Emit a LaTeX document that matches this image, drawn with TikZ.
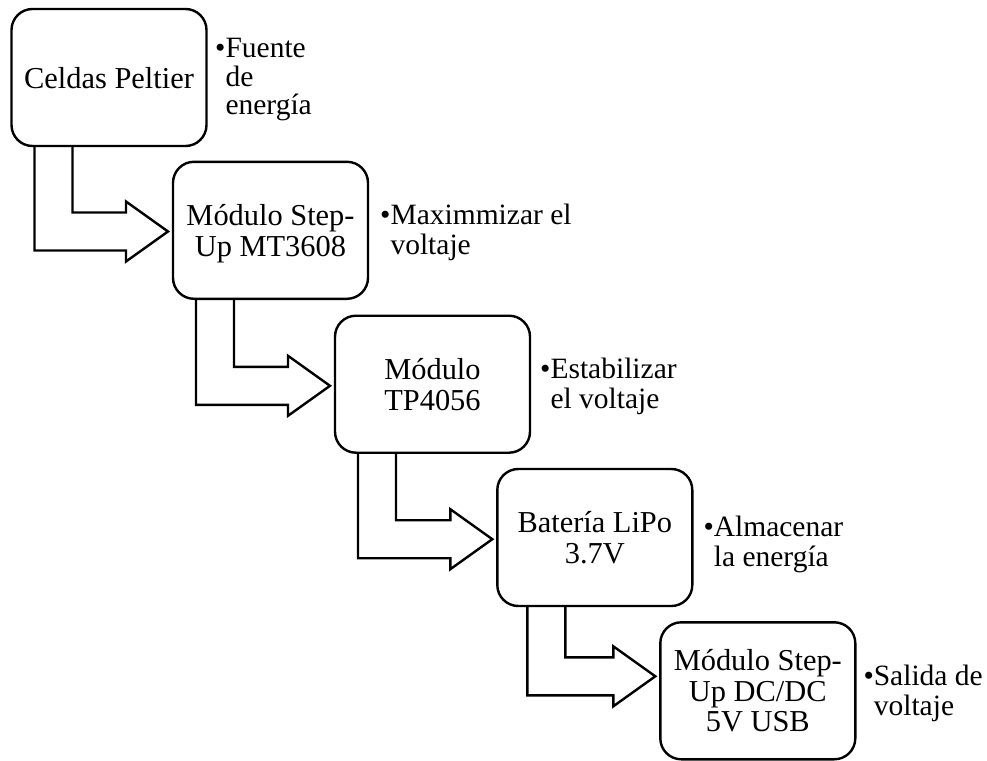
\documentclass[tikz,border=0pt]{standalone}
\usepackage{fontspec}
\setmainfont{Liberation Serif}
\usetikzlibrary{calc}

% bent block arrow: leaves the bottom of #1, turns right and points at #2
% #3 = offset of the outer edge from the left side of #1, #4 = vertical shift of the arrow axis
\newcommand{\flowarrow}[4]{%
  \draw[flow] let \p1=(#1.south west), \p2=($(#2.west)+(0,#4)$) in
    (\x1+#3pt,\y1) -- (\x1+#3pt,\y2-19pt) -- (\x2-47pt,\y2-19pt) -- (\x2-47pt,\y2-30pt)
    -- (\x2-5pt,\y2) -- (\x2-47pt,\y2+30pt) -- (\x2-47pt,\y2+19pt)
    -- (\x1+#3pt+38pt,\y2+19pt) -- (\x1+#3pt+38pt,\y1);}

\begin{document}
\begin{tikzpicture}[x=1pt,y=-1pt,
  stage/.style={draw, line width=2.4pt, rounded corners=21pt, minimum width=195pt,
    minimum height=137pt, align=center, inner sep=0pt, outer sep=0pt, text depth=0pt,
    font=\fontsize{30.4}{30.5}\selectfont},
  note/.style={anchor=base west, inner sep=0pt, outer sep=0pt,
    font=\fontsize{29.5}{30}\selectfont},
  flow/.style={draw, line width=2.4pt, line join=miter}]
\useasboundingbox (0,0) rectangle (987,760);

% process stages
\node[stage] (b1) at (109,77.5)   {Celdas Peltier};
\node[stage] (b2) at (270.5,230.3) {Módulo Step-\\Up MT3608};
\node[stage] (b3) at (432.5,384.2) {Módulo\\TP4056};
\node[stage] (b4) at (594.8,537.5) {Batería LiPo\\3.7V};
\node[stage] (b5) at (757.8,690.8) {Módulo Step-\\Up DC/DC\\5V USB};

% arrows between stages
\flowarrow{b1}{b2}{23}{1.2}
\flowarrow{b2}{b3}{23}{1.6}
\flowarrow{b3}{b4}{23}{1.7}
\flowarrow{b4}{b5}{30}{-14.5}

% bullet notes beside each stage
\node[note] (n1) at (215.2,57.7)
  {\begin{tabular}[t]{@{}l@{}l@{}}•&Fuente\\[-1.5pt]&de\\[-1.5pt]&energía\end{tabular}};
\node[note] (n2) at (380.2,224.3)
  {\begin{tabular}[t]{@{}l@{}l@{}}•&Maximmizar el\\&voltaje\end{tabular}};
\node[note] (n3) at (540.2,378.3)
  {\begin{tabular}[t]{@{}l@{}l@{}}•&Estabilizar\\&el voltaje\end{tabular}};
\node[note] (n4) at (703.5,536.7)
  {\begin{tabular}[t]{@{}l@{}l@{}}•&Almacenar\\&la energía\end{tabular}};
\node[note] (n5) at (863.5,685)
  {\begin{tabular}[t]{@{}l@{}l@{}}•&Salida de\\&voltaje\end{tabular}};
\end{tikzpicture}
\end{document}
